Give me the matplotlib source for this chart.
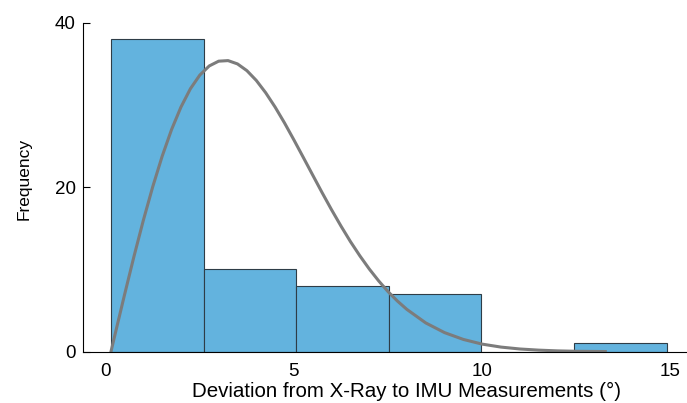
import matplotlib
matplotlib.use("Agg")
import matplotlib.pyplot as plt

plt.rcParams['font.family'] = ['Liberation Sans', 'DejaVu Sans']

# Histogram bin edges and counts
bin_edges = [0.14, 2.60, 5.06, 7.52, 9.98, 12.44, 14.90]
counts = [38, 10, 8, 7, 0, 1]

# Fitted curve
curve_x = [0.14, 0.25, 0.5, 0.75, 1.0, 1.25, 1.5, 1.75, 2.0, 2.25, 2.5, 2.75,
           3.0, 3.25, 3.5, 3.75, 4.0, 4.25, 4.5, 4.75, 5.0, 5.25, 5.5, 5.75,
           6.0, 6.25, 6.5, 6.75, 7.0, 7.25, 7.5, 7.75, 8.0, 8.5, 9.0, 9.5,
           10.0, 10.5, 11.0, 11.5, 12.0, 12.5, 13.0, 13.27]
curve_y = [0.0, 2.13, 6.91, 11.56, 15.97, 20.06, 23.76, 27.01, 29.75, 31.97, 33.63, 34.74,
           35.32, 35.39, 34.99, 34.17, 32.98, 31.48, 29.74, 27.81, 25.74, 23.61, 21.46, 19.32,
           17.25, 15.27, 13.39, 11.66, 10.06, 8.61, 7.30, 6.15, 5.14, 3.50, 2.32, 1.49,
           0.92, 0.56, 0.33, 0.19, 0.10, 0.05, 0.03, 0.02]

fig = plt.figure(figsize=(6.87, 4.03), dpi=100)
ax = fig.add_axes([0.1204, 0.1273, 0.878, 0.8164])

widths = [bin_edges[i + 1] - bin_edges[i] for i in range(len(counts))]
ax.bar(bin_edges[:-1], counts, width=widths, align='edge',
       color='#63b3de', edgecolor='#2e3d47', linewidth=0.8)
ax.plot(curve_x, curve_y, color='#7c7c7c', linewidth=2.2)

ax.set_xlim(-0.61, 15.41)
ax.set_ylim(0, 40)
ax.set_xticks([0, 5, 10, 15])
ax.set_yticks([0, 20, 40])
ax.spines['top'].set_visible(False)
ax.spines['right'].set_visible(False)
ax.tick_params(axis='y', direction='in', length=5, labelsize=13.5, pad=5)
ax.tick_params(axis='x', length=0, labelsize=13.5, pad=8)
ax.set_xlabel("Deviation from X-Ray to IMU Measurements (°)", fontsize=14.8)
ax.set_ylabel("Frequency", fontsize=12.5)
ax.xaxis.set_label_coords(0.536, -0.093)
ax.yaxis.set_label_coords(-0.084, 0.525)

plt.savefig("out.png", dpi=100)
